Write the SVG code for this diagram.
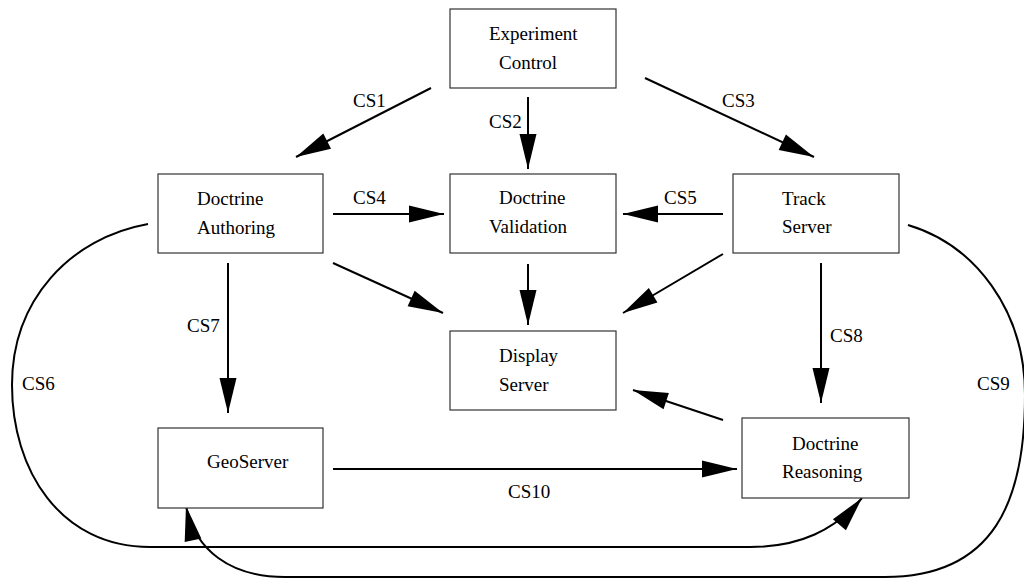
<svg xmlns="http://www.w3.org/2000/svg" width="1024" height="579" viewBox="0 0 1024 579">
<style>
.box{fill:#fff;stroke:#333;stroke-width:1.2}
.t{font-size:19px;fill:#000}
.c{fill:none;stroke:#000;stroke-width:2}
.a{marker-end:url(#ah)}
</style>
<defs>
<marker id="ah" markerUnits="userSpaceOnUse" markerWidth="36" markerHeight="18" refX="35" refY="8.5" orient="auto" overflow="visible">
<path d="M0,0 L35,8.5 L0,17 z" fill="#000"/>
</marker>
</defs>
<rect width="1024" height="579" fill="#fff"/>
<g font-family="Liberation Serif, DejaVu Serif, serif">
<g id="connectors">
<line class="c a" x1="431" y1="88" x2="296" y2="157"/>
<line class="c a" x1="528" y1="97" x2="528" y2="169"/>
<line class="c a" x1="645" y1="78" x2="814" y2="157"/>
<line class="c a" x1="333" y1="214" x2="444" y2="214"/>
<line class="c a" x1="723" y1="214" x2="623" y2="214"/>
<line class="c a" x1="333" y1="263" x2="443" y2="313"/>
<line class="c a" x1="528" y1="264" x2="528" y2="325"/>
<line class="c a" x1="723" y1="254" x2="623" y2="313"/>
<line class="c a" x1="723" y1="420" x2="633" y2="390"/>
<line class="c a" x1="228" y1="263" x2="228" y2="413"/>
<line class="c a" x1="821" y1="263" x2="821" y2="403"/>
<line class="c a" x1="333" y1="469" x2="737" y2="469"/>
<path class="c a" d="M148,224 C70,238 12,300 12,385 C12,470 60,547 150,547 L750,547 C800,547 835,530 862,498"/>
<path class="c a" d="M908,225 C975,245 1025,310 1025,395 C1025,500 995,577 885,577 L285,577 C230,577 195,550 186,506"/>
<text class="t" x="353" y="107">CS1</text>
<text class="t" x="489" y="128">CS2</text>
<text class="t" x="722" y="107">CS3</text>
<text class="t" x="353" y="204">CS4</text>
<text class="t" x="664" y="204">CS5</text>
<text class="t" x="22" y="390">CS6</text>
<text class="t" x="187" y="332">CS7</text>
<text class="t" x="830" y="342">CS8</text>
<text class="t" x="977" y="390">CS9</text>
<text class="t" x="508" y="498">CS10</text>
</g>
<g id="experiment-control">
<rect class="box" x="450" y="9" width="166" height="79"/>
<text class="t" x="489" y="40">Experiment</text>
<text class="t" x="499" y="69">Control</text>
</g>
<g id="doctrine-authoring">
<rect class="box" x="158" y="174" width="165" height="79"/>
<text class="t" x="197" y="205">Doctrine</text>
<text class="t" x="197" y="234">Authoring</text>
</g>
<g id="doctrine-validation">
<rect class="box" x="450" y="174" width="166" height="79"/>
<text class="t" x="499" y="204">Doctrine</text>
<text class="t" x="489" y="233">Validation</text>
</g>
<g id="track-server">
<rect class="box" x="733" y="174" width="166" height="79"/>
<text class="t" x="782" y="205">Track</text>
<text class="t" x="782" y="233">Server</text>
</g>
<g id="display-server">
<rect class="box" x="450" y="331" width="166" height="79"/>
<text class="t" x="499" y="362">Display</text>
<text class="t" x="499" y="391">Server</text>
</g>
<g id="geoserver">
<rect class="box" x="158" y="428" width="165" height="80"/>
<text class="t" x="207" y="468">GeoServer</text>
</g>
<g id="doctrine-reasoning">
<rect class="box" x="742" y="418" width="167" height="80"/>
<text class="t" x="792" y="450">Doctrine</text>
<text class="t" x="782" y="478">Reasoning</text>
</g>
</g>
</svg>
